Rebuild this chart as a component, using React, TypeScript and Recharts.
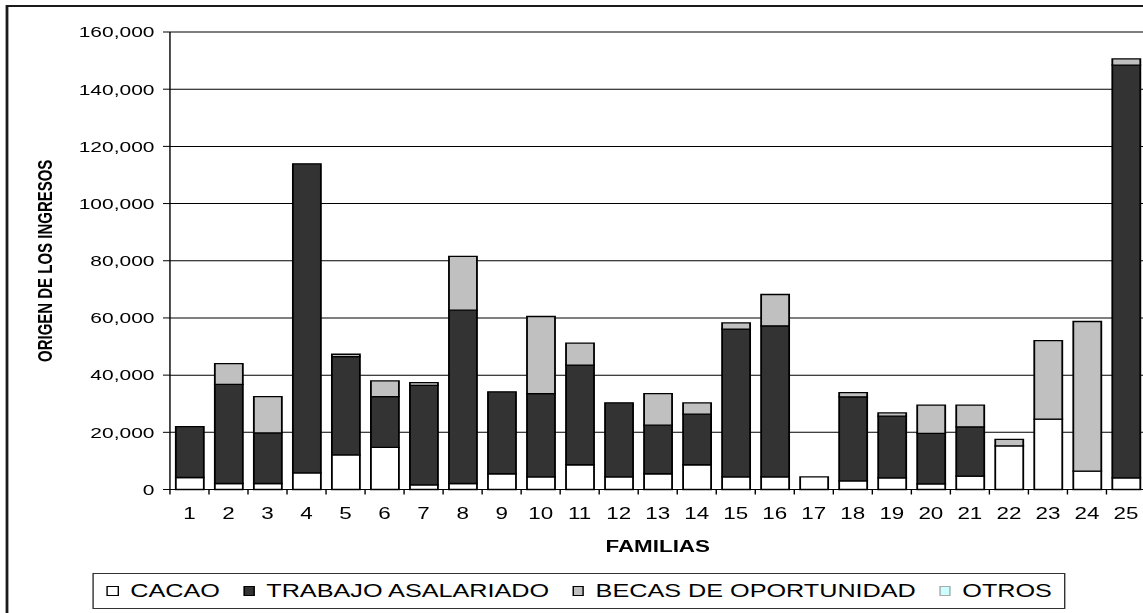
import { BarChart, Bar, XAxis, YAxis, CartesianGrid, Legend } from "recharts";

// the source picture is stretched sideways, so the whole chart is drawn narrow and scaled
const STRETCH = 1.4;

const familias = ["1", "2", "3", "4", "5", "6", "7", "8", "9", "10", "11", "12", "13", "14", "15", "16", "17", "18", "19", "20", "21", "22", "23", "24", "25"];
const cacao = [4200, 2100, 2100, 5800, 12100, 14700, 1600, 2100, 5500, 4400, 8650, 4400, 5500, 8650, 4400, 4400, 4400, 3000, 4050, 1950, 4650, 15250, 24600, 6400, 4050];
const trabajo = [17800, 34700, 17700, 108100, 34400, 17800, 34800, 60600, 28650, 29150, 34850, 25900, 17000, 17700, 51700, 52850, 0, 29400, 21600, 17650, 17250, 0, 0, 0, 144350];
const becas = [0, 7200, 12700, 0, 800, 5500, 1000, 18800, 0, 26950, 7700, 0, 11050, 3950, 2200, 10950, 0, 1500, 1150, 9900, 7600, 2250, 27500, 52350, 2200];
const otros = [0, 0, 0, 0, 0, 0, 0, 0, 0, 0, 0, 0, 0, 0, 0, 0, 0, 0, 0, 0, 0, 0, 0, 0, 0];
const yTicks = [0, 20000, 40000, 60000, 80000, 100000, 120000, 140000, 160000];

const series = [
  { key: "cacao", name: "CACAO", fill: "#ffffff", stroke: "#000000" },
  { key: "trabajo", name: "TRABAJO ASALARIADO", fill: "#333333", stroke: "#000000" },
  { key: "becas", name: "BECAS DE OPORTUNIDAD", fill: "#c0c0c0", stroke: "#000000" },
  { key: "otros", name: "OTROS", fill: "#ccffff", stroke: "#999999" },
];

const data = familias.map((f, i) => ({
  familia: f,
  cacao: cacao[i],
  trabajo: trabajo[i],
  becas: becas[i],
  otros: otros[i],
}));

const font = '"Liberation Sans", Arial, sans-serif';

const XTick = (props: any) => {
  const { x, y, payload } = props;
  const half = payload?.offset ?? 13.9;
  return (
    <g>
      <line x1={x - half} x2={x - half} y1={y - 18} y2={y - 13} stroke="#000" />
      <text x={x} y={y} dy="0.71em" textAnchor="middle" fontSize={16} fill="#000" fontFamily={font}>
        {payload.value}
      </text>
    </g>
  );
};

const YTitle = () => (
  <text
    x={37}
    y={362}
    transform="rotate(-90, 37, 362)"
    textAnchor="start"
    fontSize={15}
    fontWeight="bold"
    fill="#000"
    fontFamily={font}
  >
    ORIGEN DE LOS INGRESOS
  </text>
);

const LegendBox = () => (
  <div
    style={{
      boxSizing: "border-box",
      width: "100%",
      height: "100%",
      border: "1px solid #333",
      display: "flex",
      alignItems: "center",
      justifyContent: "space-between",
      padding: "0 9px",
      fontFamily: font,
      fontSize: 18,
      color: "#000",
      background: "#fff",
    }}
  >
    {series.map((s) => (
      <span key={s.key} style={{ display: "flex", alignItems: "center", whiteSpace: "nowrap" }}>
        <span
          style={{
            display: "inline-block",
            boxSizing: "border-box",
            width: 8.6,
            height: 10,
            background: s.fill,
            border: `1.5px solid ${s.key === "otros" ? "#aaa" : "#000"}`,
            marginRight: 8,
          }}
        />
        {s.name}
      </span>
    ))}
  </div>
);

export default function App() {
  return (
    <div style={{ position: "absolute", left: 0, top: 0, width: 1143, height: 613, overflow: "hidden", background: "#fff" }}>
      <div style={{ position: "relative", width: 840, height: 613, transform: `scaleX(${STRETCH})`, transformOrigin: "0 0" }}>
        <div
          style={{
            position: "absolute",
            left: 4.3,
            top: 5,
            width: 900,
            height: 700,
            boxSizing: "border-box",
            border: "2px solid #1a1a1a",
          }}
        />
        <BarChart
          width={840}
          height={613}
          data={data}
          margin={{ top: 32, right: 21.8, bottom: 61, left: 11.4 }}
          barCategoryGap="15%"
          style={{ fontFamily: font }}
        >
          <CartesianGrid vertical={false} stroke="#000" strokeWidth={1} />
          <XAxis
            dataKey="familia"
            height={62.5}
            stroke="#000"
            tickLine={false}
            tickSize={0}
            tickMargin={18}
            tick={<XTick />}
            interval={0}
            label={{ value: "FAMILIAS", position: "insideBottom", offset: 0, fontSize: 16, fontWeight: "bold", fill: "#000" }}
          />
          <YAxis
            width={110}
            domain={[0, 160000]}
            ticks={yTicks}
            stroke="#000"
            tickSize={5}
            tickMargin={6}
            tick={{ fontSize: 15, fill: "#000" }}
            tickFormatter={(v: number) => v.toLocaleString("en-US")}
            label={<YTitle />}
          />
          <Legend
            layout="horizontal"
            verticalAlign="middle"
            align="center"
            content={<LegendBox />}
            wrapperStyle={{ left: 66.4, top: 573, width: 695, height: 36 }}
          />
          {series.map((s) => (
            <Bar
              key={s.key}
              dataKey={s.key}
              name={s.name}
              stackId="a"
              fill={s.fill}
              stroke={s.stroke}
              strokeWidth={1.3}
              isAnimationActive={false}
            />
          ))}
        </BarChart>
      </div>
    </div>
  );
}
